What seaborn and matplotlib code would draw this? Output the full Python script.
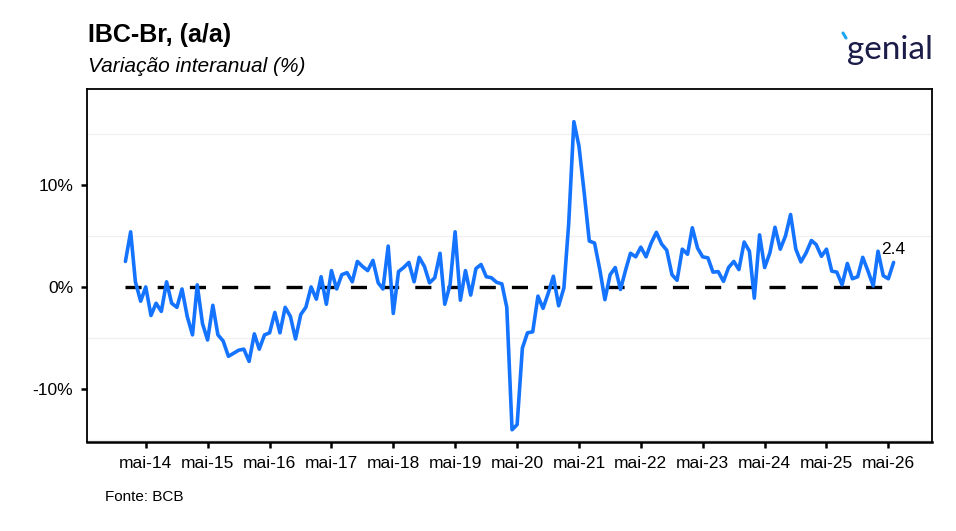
"""
IBC-Br - variação interanual (%)
"""
import pandas as pd
import matplotlib.pyplot as plt
from matplotlib.lines import Line2D
import seaborn as sns

# Dados mensais, jan-14 a jun-26
dates = pd.date_range("2014-01-01", periods=150, freq="MS")
values = [
    2.5, 5.4, 0.5, -1.4, 0.0, -2.8, -1.6, -2.4, 0.5, -1.6, -2.0, -0.2,
    -2.9, -4.7, 0.2, -3.6, -5.2, -1.8, -4.7, -5.3, -6.8, -6.5, -6.2, -6.1,
    -7.3, -4.6, -6.1, -4.7, -4.5, -2.5, -4.5, -2.0, -2.9, -5.1, -2.7, -2.0,
    0.0, -1.2, 1.0, -1.7, 1.6, -0.2, 1.2, 1.4, 0.5, 2.5, 2.0, 1.6,
    2.6, 0.4, -0.2, 4.0, -2.6, 1.5, 1.9, 2.4, 0.5, 2.9, 2.0, 0.4,
    0.9, 3.3, -1.7, 0.2, 5.4, -1.3, 1.6, -0.8, 1.8, 2.2, 1.0, 0.9,
    0.45, 0.3, -2.0, -14.0, -13.5, -6.0, -4.5, -4.4, -0.9, -2.1, -0.6, 1.05,
    -1.85, -0.1, 6.1, 16.2, 13.8, 9.2, 4.5, 4.3, 1.7, -1.25, 1.2, 1.9,
    -0.25, 1.7, 3.3, 2.95, 3.9, 2.95, 4.3, 5.35, 4.2, 3.6, 1.2, 0.65,
    3.7, 3.2, 5.8, 3.8, 2.95, 2.85, 1.45, 1.5, 0.55, 1.9, 2.5, 1.7,
    4.4, 3.5, -1.1, 5.1, 1.9, 3.35, 5.85, 3.7, 5.0, 7.1, 3.7, 2.45,
    3.35, 4.55, 4.15, 3.0, 3.7, 1.55, 1.45, 0.2, 2.3, 0.8, 1.0, 2.9,
    1.55, 0.1, 3.5, 1.1, 0.8, 2.4,
]

tick_dates = pd.to_datetime([f"20{y}-05-01" for y in range(14, 27)])
tick_labels = [f"mai-{y}" for y in range(14, 27)]
y_ticks = [-10, 0, 10]
y_tick_labels = ["-10%", "0%", "10%"]
y_grid = [-15, -5, 5, 15]

sns.set_theme(style="white")
plt.rcParams['font.family'] = ['Liberation Sans', 'DejaVu Sans']
plt.rcParams['text.color'] = 'black'

W, H = 956, 531
fig = plt.figure(figsize=(W / 100, H / 100), dpi=100)
ax = fig.add_axes([87 / W, 1 - 442 / H, (932 - 87) / W, (442 - 89) / H])

df = pd.DataFrame({'Data': dates, 'IBC': values})
sns.lineplot(data=df, x='Data', y='IBC', ax=ax, color='#1473FF', linewidth=2.6, zorder=3)

# linha do zero tracejada, só no intervalo dos dados
ax.plot([dates[0], dates[-1]], [0, 0], color='black', linewidth=2.4,
        linestyle=(0, (4.83, 4.83)), zorder=2)

ax.margins(x=0.05)
ax.set_ylim(-15.2, 19.4)

ax.set_xticks(tick_dates)
ax.set_xticklabels(tick_labels)
ax.set_yticks(y_ticks)
ax.set_yticklabels(y_tick_labels)
ax.set_yticks(y_grid, minor=True)
ax.grid(which='minor', axis='y', color='#f0f0f0', linewidth=0.9)
ax.grid(which='major', visible=False)

ax.tick_params(axis='both', which='major', bottom=True, left=True, direction='out',
               length=4, width=1.8, color='black', labelsize=12.5,
               labelcolor='black', pad=6)
ax.tick_params(which='minor', left=False, bottom=False)
ax.set_xlabel('')
ax.set_ylabel('')

for side, sp in ax.spines.items():
    sp.set_visible(True)
    sp.set_color('black')
    sp.set_linewidth(1.3)
ax.spines['bottom'].set_linewidth(1.8)

# rótulo do último valor
ax.annotate(f"{values[-1]:.1f}", (dates[-1], values[-1]), xytext=(0, 4),
            textcoords='offset points', ha='center', va='bottom', fontsize=12.5,
            color='black')

fig.text(88 / W, 1 - 35 / H, "IBC-Br, (a/a)", fontsize=18, fontweight='bold',
         ha='left', va='center', color='black')
fig.text(88 / W, 1 - 67 / H, "Variação interanual (%)", fontsize=15, style='italic',
         ha='left', va='center', color='black')
fig.text(105 / W, 1 - 497 / H, "Fonte: BCB", fontsize=11, ha='left', va='center',
         color='black')

# logo
fig.text(933 / W, 1 - 50 / H, "genial", fontsize=24, color='#1b1d48', family='Lato',
         ha='right', va='center')
fig.add_artist(Line2D([843 / W, 846 / W], [1 - 33 / H, 1 - 38 / H],
                      color='#1BA6F2', linewidth=2.2))

fig.savefig("out.png", dpi=100)
